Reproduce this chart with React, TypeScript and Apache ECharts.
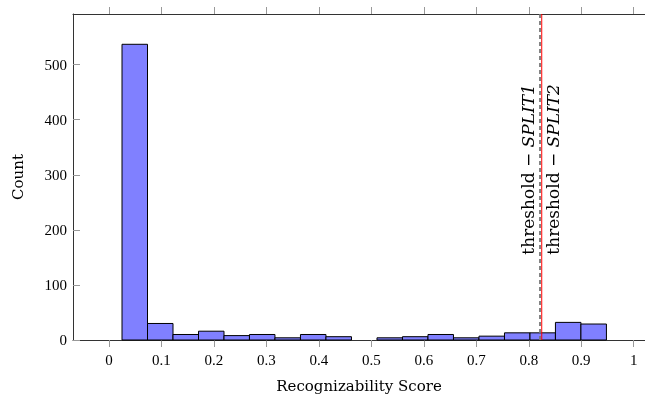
import React, { useEffect, useRef } from "react";
import * as echarts from "echarts";

const binStarts = [0.0248, 0.0734, 0.122, 0.1706, 0.2192, 0.2677, 0.3163, 0.3649, 0.4135, 0.4621, 0.5107, 0.5593, 0.6079, 0.6565, 0.7051, 0.7537, 0.8023, 0.8508, 0.8994];
const binEnds = [0.0734, 0.122, 0.1706, 0.2192, 0.2677, 0.3163, 0.3649, 0.4135, 0.4621, 0.5107, 0.5593, 0.6079, 0.6565, 0.7051, 0.7537, 0.8023, 0.8508, 0.8994, 0.948];
const counts = [537, 30, 10, 16, 8, 10, 4, 10, 6, 0, 4, 6, 10, 4, 7, 13, 13, 32, 29];

const xTicks = [0, 0.1, 0.2, 0.3, 0.4, 0.5, 0.6, 0.7, 0.8, 0.9, 1];
const xTickLabels = ["0", "0.1", "0.2", "0.3", "0.4", "0.5", "0.6", "0.7", "0.8", "0.9", "1"];
const yTicks = [0, 100, 200, 300, 400, 500];

const thresholdValues = [0.8214, 0.8247];
const thresholdNames = ["SPLIT1", "SPLIT2"];
const thresholdLabelAnchor = 155;

const NUMFONT = "'Liberation Serif', 'DejaVu Serif', serif";
const TEXTFONT = "'DejaVu Serif', 'Liberation Serif', serif";

export default function App() {
  const ref = useRef<HTMLDivElement>(null);
  useEffect(() => {
    if (!ref.current) return;
    const chart = echarts.init(ref.current, null, { renderer: "svg" });
    const histData = binStarts.map((s, i) => [s, binEnds[i], counts[i]]);
    const thrData = thresholdValues.map((v, i) => [v, i]);
    const xBase = {
      type: "value" as const,
      min: -0.0686,
      max: 1.0215,
      splitLine: { show: false },
    };
    chart.setOption({
      animation: false,
      grid: { left: 73, top: 14, right: 0, height: 326 },
      xAxis: [
        {
          ...xBase,
          position: "bottom",
          name: "Recognizability Score",
          nameLocation: "middle",
          nameGap: 38,
          nameTextStyle: { fontFamily: TEXTFONT, fontSize: 15, color: "#000" },
          axisLine: { show: true, onZero: false, lineStyle: { color: "#333", width: 1 } },
          axisTick: { show: true, inside: false, length: 7, customValues: xTicks, lineStyle: { color: "#999" } },
          axisLabel: {
            customValues: xTicks,
            fontFamily: NUMFONT,
            fontSize: 15,
            color: "#000",
            margin: 12,
            formatter: (v: number) => {
              const idx = xTicks.findIndex((t) => Math.abs(t - v) < 1e-6);
              return idx >= 0 ? xTickLabels[idx] : "";
            },
          },
        },
        {
          ...xBase,
          position: "top",
          axisLine: { show: true, onZero: false, lineStyle: { color: "#333", width: 1 } },
          axisTick: { show: true, inside: false, length: 7, customValues: xTicks, lineStyle: { color: "#999" } },
          axisLabel: { show: false },
        },
      ],
      yAxis: {
        type: "value",
        min: 0,
        max: 592,
        splitLine: { show: false },
        name: "Count",
        nameLocation: "middle",
        nameGap: 48,
        nameTextStyle: { fontFamily: TEXTFONT, fontSize: 15, color: "#000" },
        axisLine: { show: true, onZero: false, lineStyle: { color: "#333", width: 1 } },
        axisTick: { show: true, inside: true, length: 7, customValues: yTicks, lineStyle: { color: "#999" } },
        axisLabel: { customValues: yTicks, fontFamily: NUMFONT, fontSize: 15, color: "#000", margin: 6 },
      },
      series: [
        {
          type: "custom",
          xAxisIndex: 0,
          encode: { x: [0, 1], y: 2 },
          data: histData,
          renderItem: (params: any, api: any) => {
            const x0 = api.value(0);
            const x1 = api.value(1);
            const c = api.value(2);
            if (!c) return null;
            const p0 = api.coord([x0, c]);
            const p1 = api.coord([x1, 0]);
            return {
              type: "rect",
              shape: { x: p0[0], y: p0[1], width: p1[0] - p0[0], height: p1[1] - p0[1] },
              style: { fill: "#8080ff", stroke: "#000", lineWidth: 1 },
            };
          },
        },
        {
          type: "custom",
          xAxisIndex: 0,
          encode: { x: 0 },
          data: thrData,
          clip: false,
          renderItem: (params: any, api: any) => {
            const v = api.value(0);
            const i = api.value(1);
            const cs = params.coordSys;
            const px = api.coord([v, 0])[0];
            const anchor = api.coord([v, thresholdLabelAnchor]);
            const isFirst = i === 0;
            return {
              type: "group",
              children: [
                {
                  type: "line",
                  shape: { x1: px, y1: cs.y, x2: px, y2: cs.y + cs.height },
                  style: isFirst
                    ? { stroke: "#777777", lineWidth: 1.8, lineDash: [4, 3] }
                    : { stroke: "#ff0000", lineWidth: 1 },
                },
                {
                  type: "text",
                  x: isFirst ? px - 4 : px + 3,
                  y: anchor[1],
                  rotation: Math.PI / 2,
                  style: {
                    text: "{n|threshold − }{i|" + thresholdNames[i] + "}",
                    align: "left",
                    verticalAlign: isFirst ? "bottom" : "top",
                    rich: {
                      n: { fontFamily: TEXTFONT, fontSize: 17, fill: "#000" },
                      i: { fontFamily: TEXTFONT, fontSize: 17, fontStyle: "italic", fill: "#000" },
                    },
                  },
                },
              ],
            };
          },
        },
      ],
    });
    return () => chart.dispose();
  }, []);
  return <div ref={ref} style={{ position: "fixed", left: 0, top: 0, width: 645, height: 400 }} />;
}
